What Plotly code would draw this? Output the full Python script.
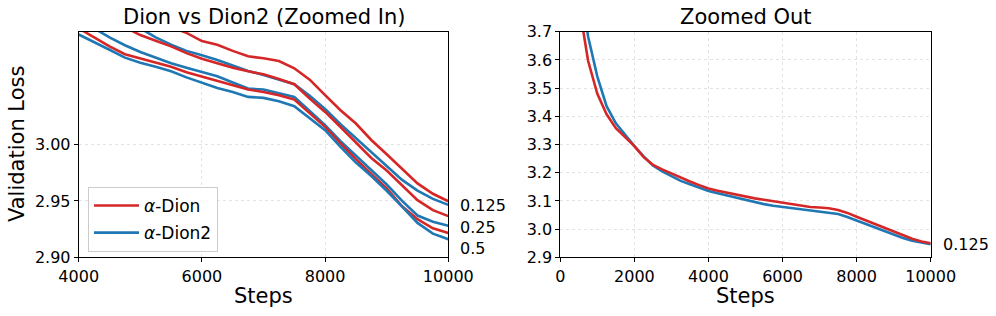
import plotly.graph_objects as go

# ---------------- data ----------------
steps_full = [500, 750, 1000, 1250, 1500, 1750, 2000, 2250, 2500, 2750, 3000, 3250,
              3500, 3750, 4000, 4250, 4500, 4750, 5000, 5250, 5500, 5750, 6000, 6250,
              6500, 6750, 7000, 7250, 7500, 7750, 8000, 8250, 8500, 8750, 9000, 9250,
              9500, 9750, 10000]
steps_late = [4000, 4250, 4500, 4750, 5000, 5250, 5500, 5750, 6000, 6250, 6500, 6750,
              7000, 7250, 7500, 7750, 8000, 8250, 8500, 8750, 9000, 9250, 9500, 9750, 10000]

# alpha = 0.125 (full run)
dion_0125 = [3.80, 3.597, 3.480, 3.407, 3.358, 3.326, 3.294, 3.255, 3.228, 3.212, 3.197, 3.182,
             3.169, 3.156, 3.144, 3.136, 3.129, 3.122, 3.115, 3.109, 3.104, 3.099, 3.0917, 3.0885,
             3.083, 3.0782, 3.0764, 3.0740, 3.0676, 3.0575, 3.0437, 3.0304, 3.0186, 3.0040, 2.9913, 2.978,
             2.9655, 2.9563, 2.9497]
dion2_0125 = [3.92, 3.683, 3.541, 3.436, 3.375, 3.333, 3.294, 3.258, 3.226, 3.205, 3.187, 3.171,
              3.159, 3.146, 3.135, 3.127, 3.119, 3.111, 3.1025, 3.095, 3.0885, 3.083, 3.0791, 3.0749,
              3.070, 3.0652, 3.0617, 3.0578, 3.0534, 3.0431, 3.0315, 3.018, 3.0055, 2.9934, 2.9808, 2.9686,
              2.9591, 2.9518, 2.9465]

# alpha = 0.25 and 0.5 (steps 4000..10000)
dion_025 = [3.125, 3.118, 3.111, 3.104, 3.097, 3.092, 3.087, 3.081, 3.0761, 3.0720, 3.068, 3.0649,
            3.0622, 3.0581, 3.0534, 3.0407, 3.0289, 3.0155, 3.0015, 2.988, 2.977, 2.964, 2.9507,
            2.9418, 2.9365]
dion2_025 = [3.110, 3.103, 3.095, 3.088, 3.082, 3.077, 3.072, 3.068, 3.0643, 3.0605, 3.055, 3.0496,
             3.0487, 3.0457, 3.0422, 3.0298, 3.0171, 3.003, 2.990, 2.977, 2.9645, 2.950, 2.937,
             2.9315, 2.928]
dion_05 = [3.103, 3.095, 3.087, 3.080, 3.0765, 3.073, 3.069, 3.064, 3.0600, 3.0560, 3.052, 3.0487,
           3.0466, 3.0437, 3.0398, 3.0277, 3.0156, 3.001, 2.987, 2.974, 2.961, 2.9452, 2.9338,
           2.9257, 2.9215]
dion2_05 = [3.0975, 3.091, 3.084, 3.077, 3.0725, 3.069, 3.065, 3.0595, 3.0546, 3.0501, 3.0465, 3.0422,
            3.0413, 3.0383, 3.0339, 3.0233, 3.0127, 2.998, 2.984, 2.972, 2.959, 2.945, 2.9305,
            2.921, 2.916]

left_labels = ["0.125", "0.25", "0.5"]
left_label_y = [2.9457, 2.9262, 2.908]
right_label = "0.125"
right_label_y = 2.946

left_yticks = [2.90, 2.95, 3.00]
left_xticks = [4000, 6000, 8000, 10000]
right_yticks = [2.9, 3.0, 3.1, 3.2, 3.3, 3.4, 3.5, 3.6, 3.7]
right_xticks = [0, 2000, 4000, 6000, 8000, 10000]

RED = "#d62728"
BLUE = "#1f77b4"
FONT = "DejaVu Sans"
LW = 2.6

# ---------------- figure ----------------
W, H = 996, 316
fig = go.Figure()

left_series = [
    (steps_full, dion_0125, steps_full, dion2_0125),
    (steps_late, dion_025, steps_late, dion2_025),
    (steps_late, dion_05, steps_late, dion2_05),
]
for i, (xr, yr, xb, yb) in enumerate(left_series):
    fig.add_trace(go.Scatter(x=xr, y=yr, mode="lines", line=dict(color=RED, width=LW),
                             name="<i>α</i>-Dion", legendgroup="dion", showlegend=(i == 0),
                             xaxis="x", yaxis="y"))
    fig.add_trace(go.Scatter(x=xb, y=yb, mode="lines", line=dict(color=BLUE, width=LW),
                             name="<i>α</i>-Dion2", legendgroup="dion2", showlegend=(i == 0),
                             xaxis="x", yaxis="y"))

fig.add_trace(go.Scatter(x=steps_full, y=dion2_0125, mode="lines", line=dict(color=BLUE, width=LW),
                         showlegend=False, xaxis="x2", yaxis="y2"))
fig.add_trace(go.Scatter(x=steps_full, y=dion_0125, mode="lines", line=dict(color=RED, width=LW),
                         showlegend=False, xaxis="x2", yaxis="y2"))

def px_x(p):
    return p / W

def px_y(p):
    return 1 - p / H

L1, R1 = 78.7, 448.3
L2, R2 = 560.3, 930.7
TOP, BOT = 31.7, 257.3

axis_common = dict(
    showline=True, linecolor="black", linewidth=1, mirror=True,
    ticks="outside", ticklen=4, tickwidth=1, tickcolor="black",
    showgrid=True, gridcolor="#e3e3e3", gridwidth=0.8, griddash="dot",
    zeroline=False, automargin=False,
    tickfont=dict(family=FONT, size=16, color="black"),
)

fig.update_layout(
    width=W, height=H,
    margin=dict(l=0, r=0, t=0, b=0),
    plot_bgcolor="white", paper_bgcolor="white",
    font=dict(family=FONT, color="black"),
    xaxis=dict(domain=[px_x(L1), px_x(R1)], range=[4000, 10000], tickvals=left_xticks,
               tickformat="d", anchor="y", **axis_common),
    yaxis=dict(domain=[px_y(BOT), px_y(TOP)], range=[2.90, 3.10], tickvals=left_yticks,
               tickformat=".2f", anchor="x", **axis_common),
    xaxis2=dict(domain=[px_x(L2), px_x(R2)], range=[0, 10000], tickvals=right_xticks,
                tickformat="d", anchor="y2", **axis_common),
    yaxis2=dict(domain=[px_y(BOT), px_y(TOP)], range=[2.9, 3.7], tickvals=right_yticks,
                tickformat=".1f", anchor="x2", **axis_common),
    legend=dict(x=px_x(88), y=px_y(187), xanchor="left", yanchor="top",
                bgcolor="rgba(255,255,255,0.85)", bordercolor="#cccccc", borderwidth=1,
                font=dict(family=FONT, size=17, color="black"), itemwidth=45,
                tracegroupgap=2),
)

ann = []
ann.append(dict(text="Dion vs Dion2 (Zoomed In)", x=px_x((L1 + R1) / 2), y=px_y(17),
                xref="paper", yref="paper", showarrow=False, xanchor="center", yanchor="middle",
                font=dict(family=FONT, size=21, color="black")))
ann.append(dict(text="Zoomed Out", x=px_x((L2 + R2) / 2), y=px_y(17),
                xref="paper", yref="paper", showarrow=False, xanchor="center", yanchor="middle",
                font=dict(family=FONT, size=21, color="black")))
for cx in [(L1 + R1) / 2, (L2 + R2) / 2]:
    ann.append(dict(text="Steps", x=px_x(cx), y=px_y(296), xref="paper", yref="paper",
                    showarrow=False, xanchor="center", yanchor="middle",
                    font=dict(family=FONT, size=21, color="black")))
ann.append(dict(text="Validation Loss", x=px_x(16.5), y=px_y((TOP + BOT) / 2), xref="paper",
                yref="paper", showarrow=False, xanchor="center", yanchor="middle", textangle=-90,
                font=dict(family=FONT, size=21, color="black")))
for t, yv in zip(left_labels, left_label_y):
    ann.append(dict(text=t, x=(458 - L1) / (R1 - L1), y=yv, xref="x domain", yref="y",
                    showarrow=False, xanchor="left", yanchor="middle",
                    font=dict(family=FONT, size=16, color="black")))
ann.append(dict(text=right_label, x=(940.7 - L2) / (R2 - L2), y=right_label_y, xref="x2 domain",
                yref="y2", showarrow=False, xanchor="left", yanchor="middle",
                font=dict(family=FONT, size=16, color="black")))

fig.update_layout(annotations=ann)

# remove the default 8px page margin so the figure fills the window exactly
fig.write_html("out.html", config={"displayModeBar": False},
               post_script="document.body.style.margin='0';document.body.style.overflow='hidden';")
